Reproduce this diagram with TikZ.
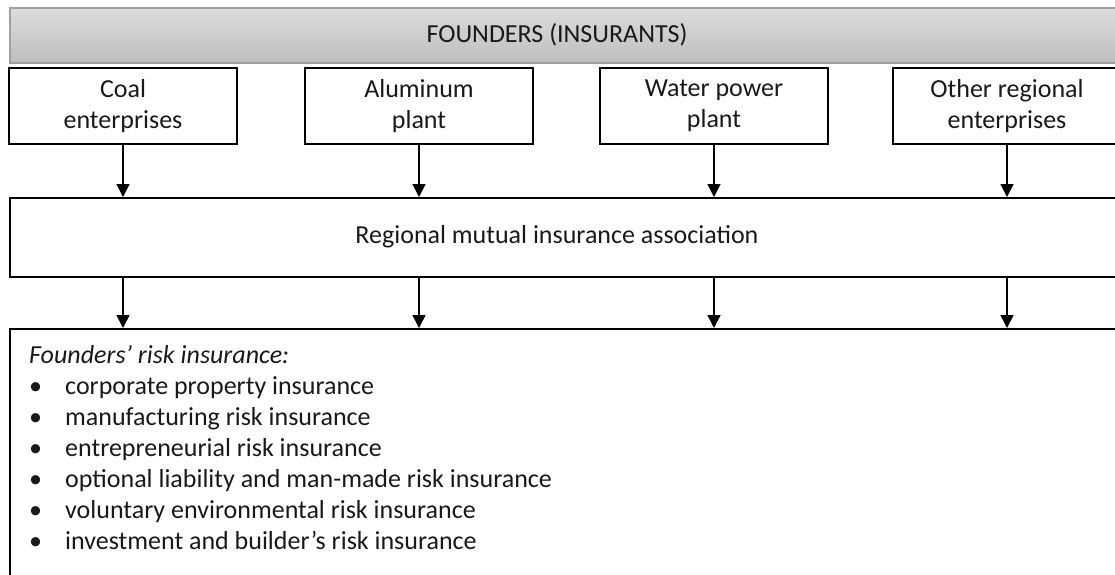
\documentclass[tikz,border=0pt]{standalone}
\usepackage{fontspec}
\setmainfont{Carlito}
\usetikzlibrary{positioning, arrows.meta}

\definecolor{headtop}{RGB}{220,220,220}
\definecolor{headbottom}{RGB}{190,190,190}
\definecolor{headline}{RGB}{160,160,160}

\begin{document}
\begin{tikzpicture}[x=1pt, y=-1pt,
    box/.style={rectangle, draw=black, line width=1.6pt, minimum width=228pt,
                minimum height=76pt, align=center, text=black!90,
                font=\fontsize{26}{31}\selectfont},
    head/.style={rectangle, draw=headline, line width=1.6pt, top color=headtop,
                 bottom color=headbottom, minimum width=1130pt, minimum height=55pt,
                 anchor=north west},
    wide/.style={rectangle, draw=black, line width=1.6pt, minimum width=1130pt,
                 anchor=north west},
    label/.style={text=black!90, font=\fontsize{26}{31}\selectfont},
    arrow/.style={-{Triangle[length=13pt, width=13pt]}, line width=1.6pt}
]
    \useasboundingbox (0,0) rectangle (1115,574);

    % Header
    \node[head] (head) at (9,7) {};
    \node[label] (headtext) at (557,35) {FOUNDERS (INSURANTS)};

    % Founders
    \node[box] (coal) at (123,106) {Coal\\enterprises};
    \node[box] (alum) at (419,106) {Aluminum\\plant};
    \node[box] (water) at (714,106) {Water power\\plant};
    \node[box] (other) at (1007,106) {Other regional\\enterprises};

    % Association
    \node[wide, minimum height=79pt] (assoc) at (9,197) {};
    \node[label] (assoctext) at (557,237) {Regional mutual insurance association};

    % Risk insurance
    \node[wide, minimum height=260pt] (risks) at (9,328) {};
    \node[label, anchor=north west, align=left, inner sep=0pt] (risklist) at (29,345) {%
        \textit{Founders' risk insurance:}\\
        \makebox[36pt][l]{\textbullet}corporate property insurance\\
        \makebox[36pt][l]{\textbullet}manufacturing risk insurance\\
        \makebox[36pt][l]{\textbullet}entrepreneurial risk insurance\\
        \makebox[36pt][l]{\textbullet}optional liability and man-made risk insurance\\
        \makebox[36pt][l]{\textbullet}voluntary environmental risk insurance\\
        \makebox[36pt][l]{\textbullet}investment and builder's risk insurance};

    % Arrows
    \draw[arrow] (coal) -- (coal |- assoc.north);
    \draw[arrow] (alum) -- (alum |- assoc.north);
    \draw[arrow] (water) -- (water |- assoc.north);
    \draw[arrow] (other) -- (other |- assoc.north);
    \draw[arrow] (coal |- assoc.south) -- (coal |- risks.north);
    \draw[arrow] (alum |- assoc.south) -- (alum |- risks.north);
    \draw[arrow] (water |- assoc.south) -- (water |- risks.north);
    \draw[arrow] (other |- assoc.south) -- (other |- risks.north);
\end{tikzpicture}
\end{document}
